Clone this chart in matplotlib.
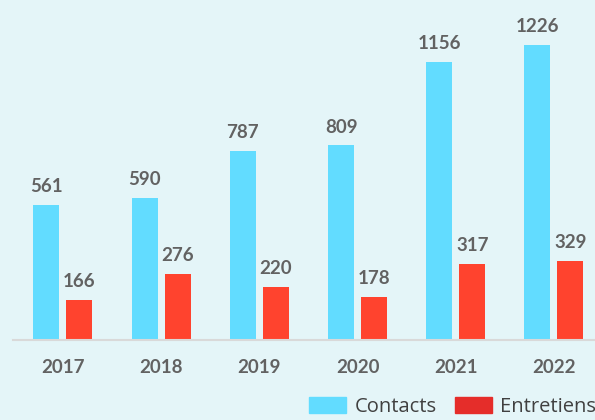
import matplotlib.pyplot as plt
import numpy as np
from matplotlib.patches import Patch

years = ["2017", "2018", "2019", "2020", "2021", "2022"]
contacts = [561, 590, 787, 809, 1156, 1226]
entretiens = [166, 276, 220, 178, 317, 329]

bg = "#e4f5f8"
gray = "#626262"
plt.rcParams["font.family"] = ["Lato", "DejaVu Sans"]

fig = plt.figure(figsize=(5.95, 4.2), dpi=100, facecolor=bg)
ax = fig.add_axes([13 / 595, 80 / 420, 582 / 595, 340 / 420])
ax.set_facecolor(bg)

x = np.arange(len(years))
w = 0.265
off = 0.168
b1 = ax.bar(x - off, contacts, w, color="#62dcff", label="Contacts")
b2 = ax.bar(x + off, entretiens, w, color="#ff432e", label="Entretiens")

for bars, vals in [(b1, contacts), (b2, entretiens)]:
    for b, v in zip(bars, vals):
        ax.annotate(str(v), (b.get_x() + b.get_width() / 2, v), xytext=(0, 7),
                    textcoords="offset points", ha="center", va="bottom",
                    fontsize=13.5, fontweight="bold", color=gray)

ax.set_xlim(-0.509, 5.418)
ax.set_ylim(0, 1413)
ax.set_xticks(x)
ax.set_xticklabels(years, fontsize=13.5, fontweight="bold", color=gray)
ax.tick_params(axis="x", length=0, pad=14)
ax.set_yticks([])
for s in ["top", "right", "left"]:
    ax.spines[s].set_visible(False)
ax.spines["bottom"].set_color("#d9d9d9")
ax.spines["bottom"].set_linewidth(1.5)

# legend colours differ slightly from the bars
handles = [Patch(color="#62dcff"), Patch(color="#e52d2a")]
fig.legend(handles, ["Contacts", "Entretiens"], ncol=2, loc="lower left",
           bbox_to_anchor=(306 / 595, 0.0), frameon=False, borderaxespad=0.1,
           borderpad=0.05, prop={"family": "Open Sans", "size": 14.5},
           labelcolor="#404040", handlelength=1.85, handleheight=0.85,
           handletextpad=0.4, columnspacing=0.9)

fig.savefig("out.png", dpi=100, facecolor=bg)
